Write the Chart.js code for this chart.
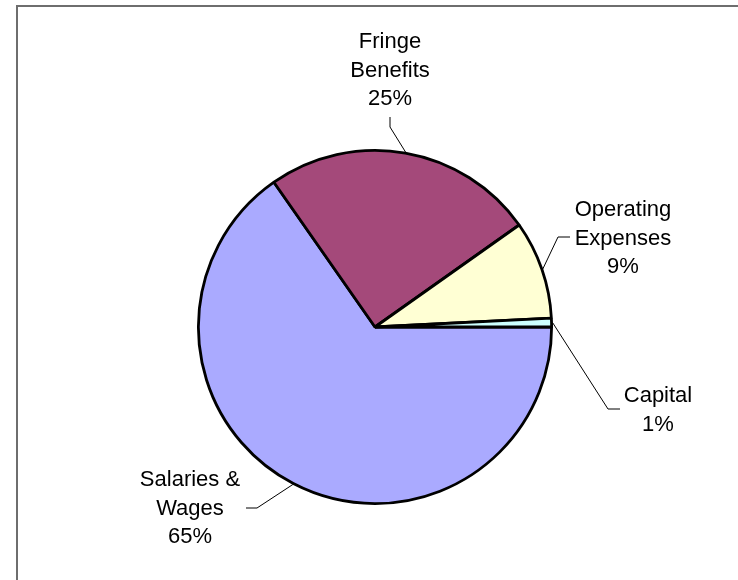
<!DOCTYPE html>
<html>
<head>
<meta charset="utf-8">
<script src="https://cdn.jsdelivr.net/npm/chart.js@4.4.0/dist/chart.umd.min.js"></script>
<style>
  html, body { margin: 0; padding: 0; background: #fff; overflow: hidden; }
  #frame { position: absolute; left: 16px; top: 5px; width: 760px; height: 620px; border: 2px solid #6e6e6e; box-sizing: border-box; }
  #chart { position: absolute; left: 0; top: 0; }
</style>
</head>
<body>
<div id="frame"></div>
<canvas id="chart" width="738" height="580"></canvas>
<script>
// DATA
const categories = [["Salaries &", "Wages"], ["Fringe", "Benefits"], ["Operating", "Expenses"], ["Capital"]];
const shares = [65.3, 24.9, 9.0, 0.8];
const sliceColors = ["#aaaaff", "#a4497a", "#ffffd4", "#ccffff"];

// LABEL PLACEMENT (center x, first baseline, elbow point next to label)
const labelSpots = [
  { x: 190, y: 486, elbow: [[257, 508], [246, 508]] },
  { x: 390, y: 48, elbow: [[390, 127], [390, 117]] },
  { x: 623, y: 216, elbow: [[558, 237], [570, 237]] },
  { x: 658, y: 402, elbow: [[608, 409], [620, 409]] }
];

// DRAW LABELS + LEADER LINES
const leaderLabels = {
  id: "leaderLabels",
  afterDraw(chart) {
    const ctx = chart.ctx;
    const arcs = chart.getDatasetMeta(0).data;
    ctx.save();
    arcs.forEach((arc, i) => {
      const mid = (arc.startAngle + arc.endAngle) / 2;
      const r = arc.outerRadius + 1;
      const sx = arc.x + Math.cos(mid) * r;
      const sy = arc.y + Math.sin(mid) * r;
      const spot = labelSpots[i];

      ctx.strokeStyle = "#000";
      ctx.lineWidth = 1;
      ctx.beginPath();
      ctx.moveTo(sx, sy);
      ctx.lineTo(spot.elbow[0][0], spot.elbow[0][1]);
      ctx.lineTo(spot.elbow[1][0], spot.elbow[1][1]);
      ctx.stroke();

      const lines = categories[i].concat([Math.round(shares[i]) + "%"]);
      ctx.fillStyle = "#000";
      ctx.font = "22px 'Liberation Sans', Arial, sans-serif";
      ctx.textAlign = "center";
      ctx.textBaseline = "alphabetic";
      lines.forEach((t, k) => ctx.fillText(t, spot.x, spot.y + k * 28.5));
    });
    ctx.restore();
  }
};

new Chart(document.getElementById("chart"), {
  type: "pie",
  data: {
    labels: categories.map(c => c.join(" ")),
    datasets: [{
      data: shares,
      backgroundColor: sliceColors,
      borderColor: "#000",
      borderWidth: 2.8
    }]
  },
  options: {
    responsive: false,
    animation: false,
    rotation: 90,
    layout: { padding: { left: 197, right: 185, top: 149, bottom: 75 } },
    plugins: {
      legend: { display: false },
      tooltip: { enabled: false }
    }
  },
  plugins: [leaderLabels]
});
</script>
</body>
</html>
